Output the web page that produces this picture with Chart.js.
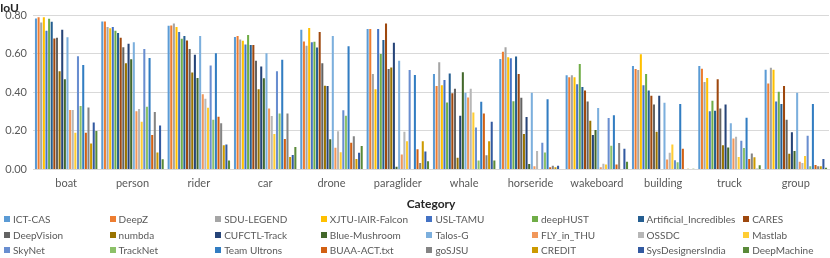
<!DOCTYPE html>
<html>
<head>
<meta charset="utf-8">
<script src="https://cdn.jsdelivr.net/npm/chart.js@4.4.1/dist/chart.umd.min.js"></script>
<style>
    body { margin: 0; background: #fff; }
    #wrap { position: relative; width: 830px; height: 258px; }
    #legend { position: absolute; left: 0; top: 0; width: 830px; height: 258px; pointer-events: none; }
    .item { position: absolute; font: 10px Lato, sans-serif; color: #595959; white-space: nowrap; line-height: 12px; }
    .item i { display: inline-block; width: 6px; height: 6px; margin-right: 3px; vertical-align: 1px; }
</style>
</head>
<body>
<div id="wrap">
    <canvas id="canvas" width="830" height="258"></canvas>
    <div id="legend"></div>
</div>
<script>
var categories = ['boat', 'person', 'rider', 'car', 'drone', 'paraglider', 'whale', 'horseride', 'wakeboard', 'building', 'truck', 'group'];
var yTickLabels = ['0.00', '0.20', '0.40', '0.60', '0.80'];

var ictCas       = [0.784, 0.768, 0.746, 0.688, 0.725, 0.730, 0.496, 0.574, 0.489, 0.537, 0.537, 0.518];
var deepZ        = [0.790, 0.768, 0.747, 0.693, 0.665, 0.730, 0.433, 0.611, 0.479, 0.521, 0.523, 0.446];
var sduLegend    = [0.763, 0.740, 0.758, 0.675, 0.642, 0.495, 0.556, 0.635, 0.489, 0.516, 0.454, 0.528];
var xjtuFalcon   = [0.790, 0.733, 0.740, 0.668, 0.735, 0.416, 0.437, 0.582, 0.479, 0.598, 0.475, 0.518];
var uslTamu      = [0.720, 0.740, 0.714, 0.649, 0.661, 0.730, 0.465, 0.577, 0.442, 0.437, 0.302, 0.353];
var deepHust     = [0.782, 0.720, 0.679, 0.698, 0.663, 0.600, 0.347, 0.354, 0.547, 0.495, 0.356, 0.404];
var artificial   = [0.767, 0.709, 0.693, 0.646, 0.633, 0.672, 0.498, 0.586, 0.428, 0.410, 0.305, 0.340];
var cares        = [0.680, 0.684, 0.670, 0.646, 0.714, 0.758, 0.395, 0.496, 0.410, 0.382, 0.468, 0.433];
var deepVision   = [0.684, 0.635, 0.625, 0.565, 0.551, 0.521, 0.419, 0.372, 0.353, 0.337, 0.316, 0.258];
var numbda       = [0.510, 0.551, 0.504, 0.416, 0.435, 0.530, 0.060, 0.184, 0.253, 0.195, 0.126, 0.081];
var cufctl       = [0.726, 0.653, 0.596, 0.535, 0.433, 0.658, 0.279, 0.272, 0.179, 0.382, 0.337, 0.193];
var blueMushroom = [0.468, 0.572, 0.475, 0.474, 0.156, 0.014, 0.505, 0.028, 0.205, 0.000, 0.114, 0.095];
var talosG       = [0.686, 0.660, 0.693, 0.604, 0.693, 0.565, 0.398, 0.398, 0.319, 0.346, 0.240, 0.398];
var flyInThu     = [0.309, 0.302, 0.390, 0.316, 0.112, 0.077, 0.374, 0.016, 0.011, 0.051, 0.160, 0.040];
var ossdc        = [0.309, 0.314, 0.367, 0.277, 0.198, 0.195, 0.419, 0.095, 0.030, 0.086, 0.170, 0.033];
var mastlab      = [0.190, 0.247, 0.320, 0.184, 0.089, 0.146, 0.296, 0.000, 0.026, 0.130, 0.065, 0.070];
var skyNet       = [0.588, 0.625, 0.540, 0.510, 0.307, 0.516, 0.218, 0.139, 0.267, 0.047, 0.149, 0.175];
var trackNet     = [0.330, 0.326, 0.258, 0.290, 0.279, 0.000, 0.046, 0.088, 0.123, 0.037, 0.111, 0.016];
var teamUltrons  = [0.542, 0.579, 0.604, 0.570, 0.640, 0.491, 0.351, 0.365, 0.281, 0.340, 0.268, 0.340];
var buaa         = [0.190, 0.179, 0.274, 0.158, 0.139, 0.105, 0.291, 0.011, 0.025, 0.107, 0.054, 0.023];
var goSjsu       = [0.321, 0.298, 0.240, 0.291, 0.172, 0.033, 0.074, 0.019, 0.137, 0.000, 0.082, 0.016];
var credit       = [0.135, 0.088, 0.126, 0.065, 0.054, 0.146, 0.146, 0.011, 0.000, 0.004, 0.063, 0.016];
var sysDesigners = [0.244, 0.228, 0.130, 0.075, 0.086, 0.093, 0.247, 0.019, 0.107, 0.000, 0.004, 0.054];
var deepMachine  = [0.200, 0.053, 0.046, 0.116, 0.121, 0.042, 0.046, 0.000, 0.040, 0.004, 0.021, 0.009];

var seriesNames = ['ICT-CAS', 'DeepZ', 'SDU-LEGEND', 'XJTU-IAIR-Falcon', 'USL-TAMU', 'deepHUST', 'Artificial_Incredibles', 'CARES',
    'DeepVision', 'numbda', 'CUFCTL-Track', 'Blue-Mushroom', 'Talos-G', 'FLY_in_THU', 'OSSDC', 'Mastlab',
    'SkyNet', 'TrackNet', 'Team Ultrons', 'BUAA-ACT.txt', 'goSJSU', 'CREDIT', 'SysDesignersIndia', 'DeepMachine'];
var seriesValues = [ictCas, deepZ, sduLegend, xjtuFalcon, uslTamu, deepHust, artificial, cares,
    deepVision, numbda, cufctl, blueMushroom, talosG, flyInThu, ossdc, mastlab,
    skyNet, trackNet, teamUltrons, buaa, goSjsu, credit, sysDesigners, deepMachine];

// excel office palette, then the lighter/darker variants
var colors = ['#5B9BD5', '#ED7D31', '#A5A5A5', '#FFC000', '#4472C4', '#70AD47', '#255E91', '#9E480E',
    '#636363', '#997300', '#264478', '#43682B', '#7CAFDD', '#F1975A', '#B7B7B7', '#FFCD33',
    '#698ED0', '#8CC168', '#327DC2', '#D26012', '#848484', '#CC9A00', '#335AA1', '#5A8A39'];

var datasets = seriesNames.map(function(name, i) {
    return {
        label: name,
        data: seriesValues[i],
        backgroundColor: colors[i],
        categoryPercentage: 0.95,
        barPercentage: 0.78
    };
});

var ctx = document.getElementById('canvas').getContext('2d');
new Chart(ctx, {
    type: 'bar',
    data: { labels: categories, datasets: datasets },
    options: {
        responsive: false,
        animation: false,
        layout: { padding: { left: 0, right: 1, top: 0, bottom: 47 } },
        plugins: {
            legend: { display: false },
            tooltip: { enabled: false },
            title: {
                display: true,
                text: 'IoU',
                align: 'start',
                color: '#262626',
                font: { family: 'Lato', size: 12, weight: 'bold' },
                padding: { top: 1, bottom: 0 }
            }
        },
        scales: {
            x: {
                grid: { display: false, drawTicks: false },
                border: { color: '#D9D9D9' },
                ticks: { color: '#595959', font: { family: 'Lato', size: 11 }, padding: 7, maxRotation: 0, autoSkip: false },
                title: {
                    display: true,
                    text: 'Category',
                    color: '#262626',
                    font: { family: 'Lato', size: 12, weight: 'bold' },
                    padding: { top: 0, bottom: 0 }
                }
            },
            y: {
                min: 0,
                max: 0.8,
                grid: { color: '#D9D9D9', drawTicks: false },
                border: { display: false },
                ticks: {
                    stepSize: 0.2,
                    padding: 6,
                    color: '#595959',
                    font: { family: 'Lato', size: 11 },
                    callback: function(v) { return yTickLabels[Math.round(v / 0.2)]; }
                },
                afterFit: function(s) { s.width = 33; }
            }
        }
    }
});

var legend = document.getElementById('legend');
seriesNames.forEach(function(name, i) {
    var el = document.createElement('div');
    el.className = 'item';
    el.style.left = (4 + (i % 8) * 105.6) + 'px';
    el.style.top = (213 + Math.floor(i / 8) * 15.5) + 'px';
    el.innerHTML = '<i style="background:' + colors[i] + '"></i>' + name;
    legend.appendChild(el);
});
</script>
</body>
</html>
